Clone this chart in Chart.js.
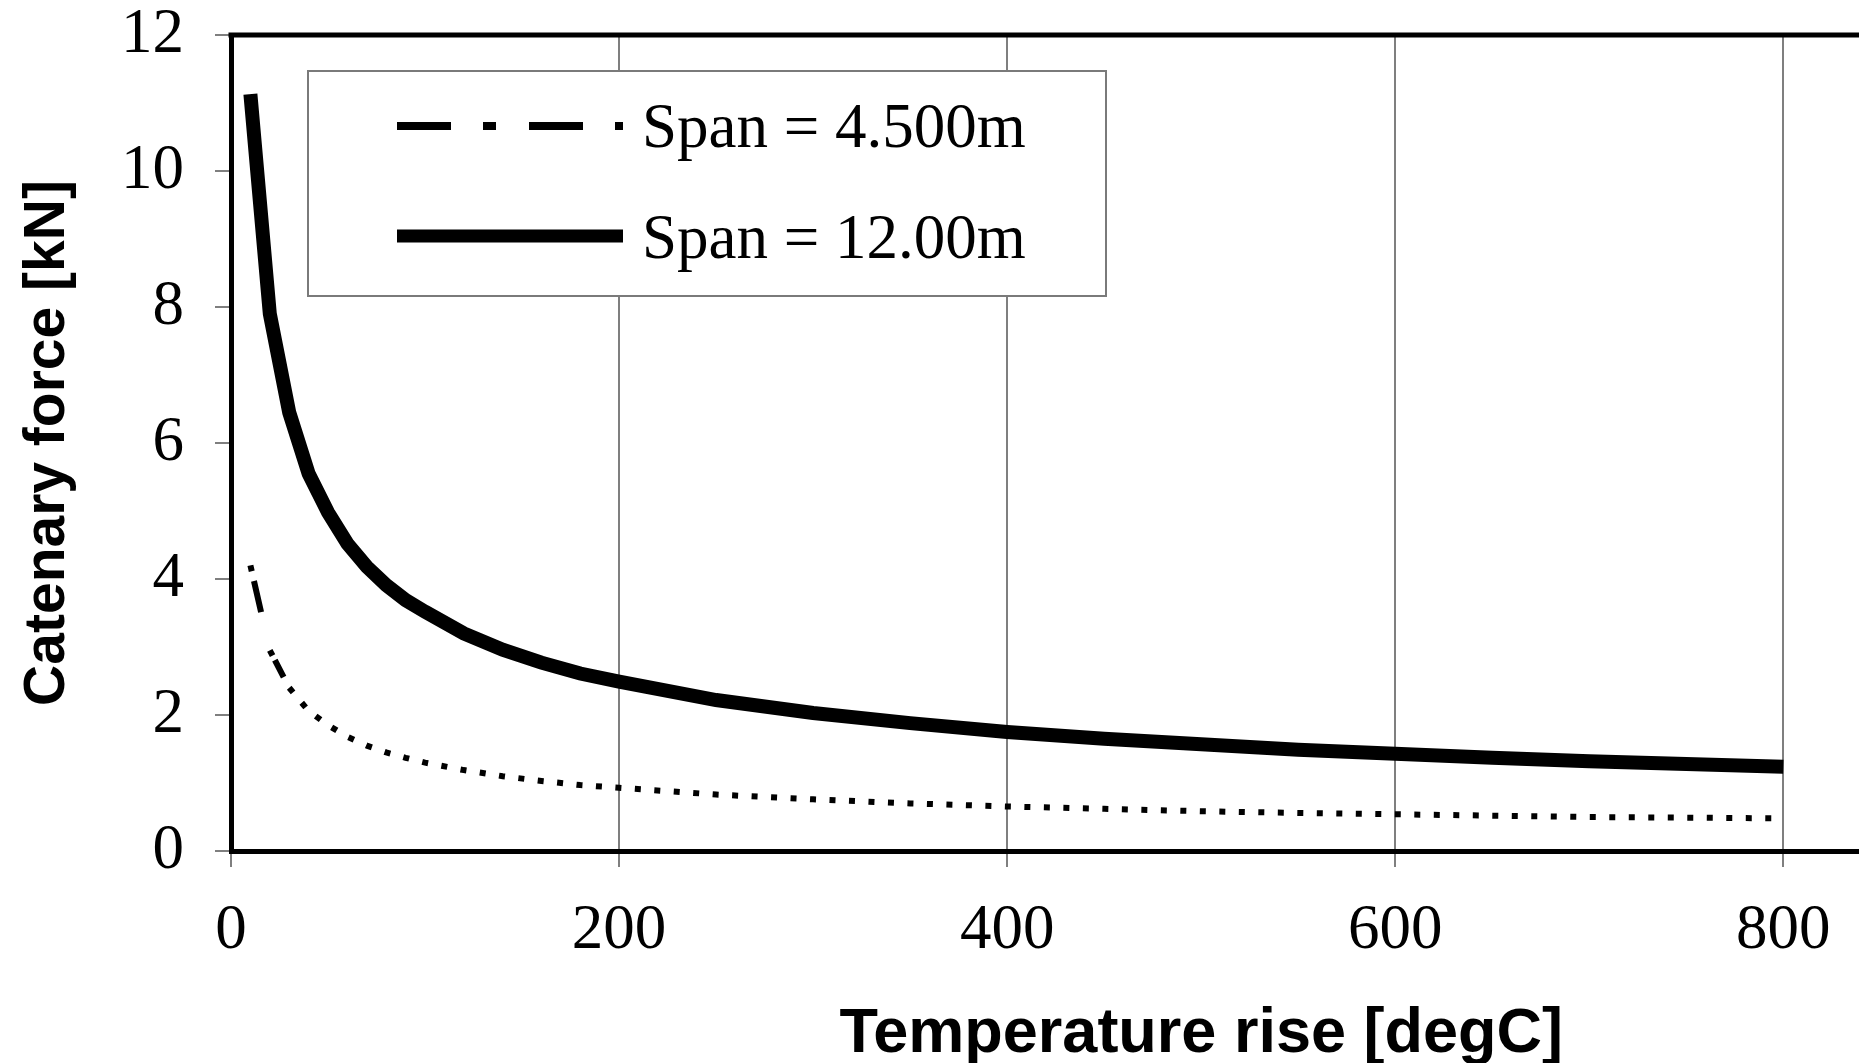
<!DOCTYPE html>
<html>
<head>
<meta charset="utf-8">
<script src="https://cdn.jsdelivr.net/npm/chart.js@4"></script>
<style>
  html, body { margin: 0; padding: 0; background: #fff; overflow: hidden; }
  #wrap { width: 1859px; height: 1063px; }
</style>
</head>
<body>
<div id="wrap"><canvas id="myChart"></canvas></div>
<script>
// temperature rise [degC] and catenary force [kN]
const tempRise = [10, 20, 30, 40, 50, 60, 70, 80, 90, 100, 120, 140, 160, 180, 200, 250, 300, 350, 400, 450, 500, 550, 600, 650, 700, 750, 800];
const span450 = [4.2, 2.95, 2.4, 2.06, 1.85, 1.68, 1.55, 1.45, 1.37, 1.3, 1.19, 1.1, 1.03, 0.97, 0.93, 0.83, 0.76, 0.7, 0.655, 0.62, 0.585, 0.56, 0.54, 0.52, 0.5, 0.49, 0.48];
const span1200 = [11.13, 7.9, 6.45, 5.55, 4.98, 4.52, 4.18, 3.91, 3.69, 3.52, 3.2, 2.96, 2.77, 2.61, 2.49, 2.22, 2.03, 1.88, 1.75, 1.65, 1.57, 1.49, 1.43, 1.37, 1.32, 1.28, 1.24];
const xTicks = [0, 200, 400, 600, 800];
const yTicks = [0, 2, 4, 6, 8, 10, 12];
const seriesNames = ["Span = 4.500m", "Span = 12.00m"];

const serif = "'Liberation Serif', 'Times New Roman', serif";
const sans = "'Liberation Sans', Arial, sans-serif";

// Excel style dash: pattern restarts on the first segments, then plain dots
const dotDash = [6, 13.5];
function shortSpanDash(ctx) {
  if (ctx.p0DataIndex === 0) return [6, 10, 32, 200];
  if (ctx.p0DataIndex === 1) return [6, 5, 19, 100];
  return dotDash;
}

const extras = {
  id: "extras",
  afterDraw(chart) {
    const { ctx, chartArea: a, scales } = chart;
    ctx.save();
    // top edge of the plot frame
    ctx.strokeStyle = "#000";
    ctx.lineWidth = 5;
    ctx.beginPath();
    ctx.moveTo(a.left - 2.5, a.top);
    ctx.lineTo(a.right, a.top);
    ctx.stroke();

    // legend box
    const bx = a.left + 77, by = a.top + 36, bw = 798, bh = 225;
    ctx.fillStyle = "#fff";
    ctx.fillRect(bx, by, bw, bh);
    ctx.strokeStyle = "#7a7a7a";
    ctx.lineWidth = 2;
    ctx.strokeRect(bx, by, bw, bh);

    const x1 = bx + 89, x2 = bx + 315;
    const rows = [by + 55, by + 165];
    ctx.strokeStyle = "#000";
    ctx.lineCap = "butt";
    // 4.5 m sample: long dash dot
    ctx.lineWidth = 8;
    ctx.setLineDash([54, 32, 13, 33]);
    ctx.beginPath();
    ctx.moveTo(x1, rows[0]);
    ctx.lineTo(x2, rows[0]);
    ctx.stroke();
    // 12 m sample: thick solid
    ctx.setLineDash([]);
    ctx.lineWidth = 13;
    ctx.beginPath();
    ctx.moveTo(x1, rows[1]);
    ctx.lineTo(x2, rows[1]);
    ctx.stroke();

    ctx.fillStyle = "#000";
    ctx.font = "63px " + serif;
    ctx.textAlign = "left";
    ctx.textBaseline = "alphabetic";
    ctx.fillText(seriesNames[0], bx + 334, rows[0] + 21);
    ctx.fillText(seriesNames[1], bx + 334, rows[1] + 22);

    // x axis title, centred as in the original (uncropped) figure
    ctx.font = "bold 63px " + sans;
    ctx.textAlign = "center";
    ctx.fillText("Temperature rise [degC]", scales.x.getPixelForValue(500), 1052);
    ctx.restore();
  }
};

const config = {
  type: "line",
  data: {
    datasets: [
      {
        label: seriesNames[0],
        data: tempRise.map((t, i) => ({ x: t, y: span450[i] })),
        borderColor: "#000",
        borderWidth: 6,
        borderCapStyle: "butt",
        borderDash: dotDash,
        pointRadius: 0,
        tension: 0,
        fill: false,
        segment: { borderDash: shortSpanDash },
      },
      {
        label: seriesNames[1],
        data: tempRise.map((t, i) => ({ x: t, y: span1200[i] })),
        borderColor: "#000",
        borderWidth: 14,
        borderCapStyle: "butt",
        pointRadius: 0,
        tension: 0,
        fill: false,
      },
    ],
  },
  options: {
    responsive: true,
    maintainAspectRatio: false,
    animation: false,
    layout: { padding: { top: 35, right: 0, left: 0, bottom: 0 } },
    plugins: {
      legend: { display: false },
      tooltip: { enabled: false },
    },
    scales: {
      x: {
        type: "linear",
        min: 0,
        max: 839,
        afterBuildTicks: (s) => { s.ticks = xTicks.map((v) => ({ value: v })); },
        afterFit: (s) => { s.height = 212; s.paddingLeft = 0; s.paddingRight = 0; },
        grid: { color: "#7f7f7f", lineWidth: 2, tickLength: 16, drawTicks: true },
        border: { color: "#000", width: 5 },
        ticks: { color: "#000", padding: 33, maxRotation: 0, font: { family: serif, size: 63, lineHeight: 1 } },
      },
      y: {
        min: 0,
        max: 12,
        afterBuildTicks: (s) => { s.ticks = yTicks.map((v) => ({ value: v })); },
        afterFit: (s) => { s.width = 231; s.paddingTop = 0; s.paddingBottom = 0; },
        grid: { color: "#7f7f7f", lineWidth: 2, tickLength: 16, drawOnChartArea: false },
        border: { color: "#000", width: 5 },
        ticks: { color: "#000", padding: 31, font: { family: serif, size: 63, lineHeight: 1 } },
        title: {
          display: true,
          text: "Catenary force [kN]",
          color: "#000",
          padding: { top: 14, bottom: 0 },
          font: { family: sans, size: 57, weight: "bold" },
        },
      },
    },
  },
  plugins: [extras],
};

const myChart = new Chart(document.getElementById("myChart"), config);
</script>
</body>
</html>
